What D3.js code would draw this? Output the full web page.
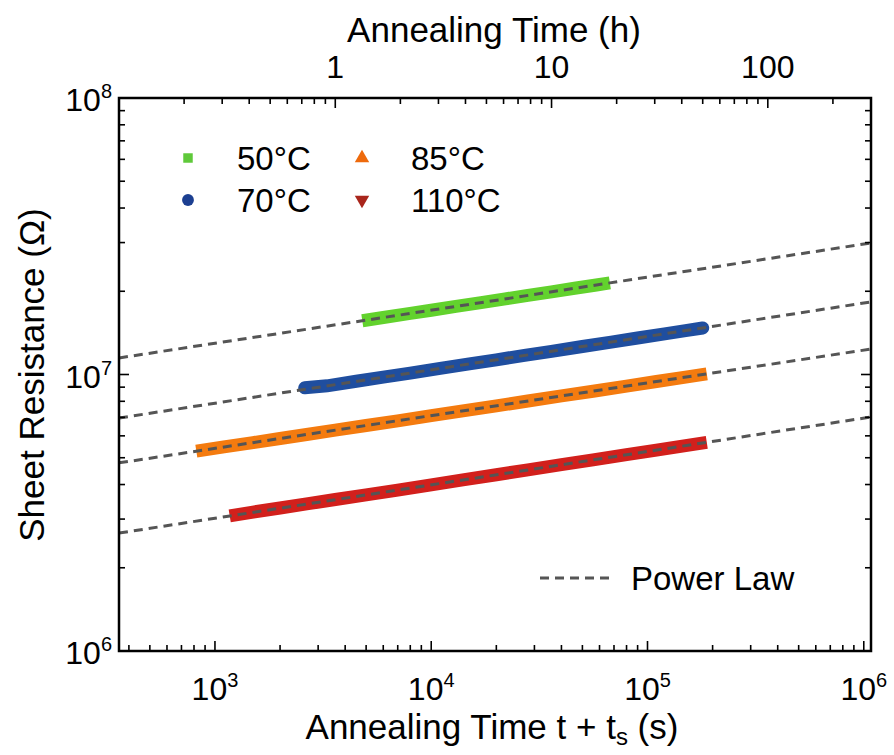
<!DOCTYPE html>
<html>
<head>
<meta charset="utf-8">
<script src="https://cdn.jsdelivr.net/npm/d3@7"></script>
<style>
  html, body { margin: 0; padding: 0; background: #fff; }
  svg { display: block; font-family: "Liberation Sans", Arial, sans-serif; }
</style>
</head>
<body>
<svg id="chart" width="894" height="755"></svg>
<script>
// data: time (s) and sheet resistance (ohm)
const labels = ["50°C", "70°C", "85°C", "110°C"];
const bandColors = ["#62d22d", "#1f4e9f", "#f47b0f", "#d2201c"];
const legendColors = ["#5fc93a", "#1c3f91", "#ee6a0c", "#a9261c"];

const t50 = [4.8e3, 6e3, 8e3, 1e4, 1.3e4, 1.7e4, 2.2e4, 2.8e4, 3.6e4, 4.6e4, 5.8e4, 6.7e4];
const r50 = [1.565e7, 1.607e7, 1.663e7, 1.708e7, 1.763e7, 1.82e7, 1.877e7, 1.932e7, 1.991e7, 2.05e7, 2.107e7, 2.144e7];

const t70 = [2.6e3, 3.3e3, 4.5e3, 6e3, 8e3, 1.1e4, 1.5e4, 2e4, 2.7e4, 3.6e4, 5e4, 6.8e4, 9e4, 1.2e5, 1.5e5, 1.8e5];
const r70 = [8.95e6, 9.1e6, 9.45e6, 9.78e6, 1.012e7, 1.052e7, 1.092e7, 1.13e7, 1.172e7, 1.213e7, 1.263e7, 1.31e7, 1.355e7, 1.403e7, 1.441e7, 1.473e7];

const t85 = [820, 1.1e3, 1.5e3, 2e3, 2.7e3, 3.6e3, 5e3, 7e3, 1e4, 1.4e4, 2e4, 2.8e4, 4e4, 5.6e4, 8e4, 1.1e5, 1.5e5, 1.88e5];
const r85 = [5.28e6, 5.47e6, 5.67e6, 5.87e6, 6.08e6, 6.29e6, 6.54e6, 6.8e6, 7.1e6, 7.39e6, 7.7e6, 8.02e6, 8.37e6, 8.7e6, 9.08e6, 9.43e6, 9.78e6, 1.005e7];

const t110 = [1.17e3, 1.5e3, 2e3, 2.7e3, 3.6e3, 5e3, 7e3, 1e4, 1.4e4, 2e4, 2.8e4, 4e4, 5.6e4, 8e4, 1.1e5, 1.5e5, 1.88e5];
const r110 = [3.08e6, 3.18e6, 3.29e6, 3.41e6, 3.53e6, 3.67e6, 3.82e6, 3.99e6, 4.16e6, 4.34e6, 4.52e6, 4.72e6, 4.91e6, 5.13e6, 5.33e6, 5.53e6, 5.68e6];

// power law fits, value at the left (360 s) and right (1.08e6 s) ends
const fitT = [360, 1.08e6];
const fitLeft = [1.148e7, 6.96e6, 4.79e6, 2.67e6];
const fitRight = [2.99e7, 1.83e7, 1.236e7, 7.02e6];

const xMajor = [1e3, 1e4, 1e5, 1e6];
const xExp = [3, 4, 5, 6];
const yMajor = [1e6, 1e7, 1e8];
const yExp = [6, 7, 8];
const hourMajor = [1, 10, 100];

const svg = d3.select("#chart");
const pLeft = 119, pRight = 871, pTop = 98, pBottom = 651;

const x = d3.scaleLog().domain([360, 1.08e6]).range([pLeft, pRight]);
const xh = d3.scaleLog().domain([0.1, 300]).range([pLeft, pRight]);
const y = d3.scaleLog().domain([1e6, 1e8]).range([pBottom, pTop]);

const plot = svg.append("g");
svg.append("clipPath").attr("id", "clip")
  .append("rect").attr("x", pLeft).attr("y", pTop).attr("width", pRight - pLeft).attr("height", pBottom - pTop);

const series = [[t50, r50], [t70, r70], [t85, r85], [t110, r110]];
const line = d3.line().x(d => x(d[0])).y(d => y(d[1]));

// data bands
series.forEach((s, i) => {
  const pts = s[0].map((t, j) => [t, s[1][j]]);
  plot.append("path")
    .attr("d", line(pts))
    .attr("fill", "none")
    .attr("stroke", bandColors[i])
    .attr("stroke-width", 13)
    .attr("stroke-linecap", i === 1 ? "round" : "butt");
});

// power law lines
const fits = plot.append("g").attr("clip-path", "url(#clip)");
fitLeft.forEach((v, i) => {
  fits.append("path")
    .attr("d", line([[fitT[0], v], [fitT[1], fitRight[i]]]))
    .attr("fill", "none")
    .attr("stroke", "#555")
    .attr("stroke-width", 3)
    .attr("stroke-dasharray", "9,6");
});

// ticks
const axes = svg.append("g").attr("stroke", "#000").attr("stroke-width", 1.6);
function minors(lo, hi) {
  const out = [];
  for (let e = Math.floor(Math.log10(lo)); e <= Math.ceil(Math.log10(hi)); e++) {
    for (let k = 1; k < 10; k++) {
      const v = k * Math.pow(10, e);
      if (v > lo * 1.001 && v < hi * 0.999) out.push([v, k === 1]);
    }
  }
  return out;
}
minors(360, 1.08e6).forEach(([v, major]) => {
  const len = major ? 10 : 6;
  axes.append("line").attr("x1", x(v)).attr("x2", x(v)).attr("y1", pBottom).attr("y2", pBottom - len);
});
minors(0.1, 300).forEach(([v, major]) => {
  const len = major ? 10 : 6;
  axes.append("line").attr("x1", xh(v)).attr("x2", xh(v)).attr("y1", pTop).attr("y2", pTop + len);
});
minors(1e6, 1e8).forEach(([v, major]) => {
  const len = major ? 10 : 6;
  axes.append("line").attr("x1", pLeft).attr("x2", pLeft + len).attr("y1", y(v)).attr("y2", y(v));
  axes.append("line").attr("x1", pRight).attr("x2", pRight - len).attr("y1", y(v)).attr("y2", y(v));
});

svg.append("rect")
  .attr("x", pLeft).attr("y", pTop).attr("width", pRight - pLeft).attr("height", pBottom - pTop)
  .attr("fill", "none").attr("stroke", "#000").attr("stroke-width", 2.5);

// tick labels
const narrow = '"Liberation Sans Narrow", "Arial Narrow", "Liberation Sans", sans-serif';
xMajor.forEach((v, i) => {
  const t = svg.append("text").attr("x", x(v)).attr("y", 700)
    .attr("text-anchor", "middle").attr("font-size", 32).attr("font-family", narrow);
  t.append("tspan").text("10");
  t.append("tspan").attr("font-size", 20).attr("dy", -13).text(xExp[i]);
});
yMajor.forEach((v, i) => {
  const t = svg.append("text").attr("x", 112).attr("y", y(v) + 13)
    .attr("text-anchor", "end").attr("font-size", 32).attr("font-family", narrow);
  t.append("tspan").text("10");
  t.append("tspan").attr("font-size", 20).attr("dy", -13).text(yExp[i]);
});
hourMajor.forEach(v => {
  svg.append("text").attr("x", xh(v)).attr("y", 78)
    .attr("text-anchor", "middle").attr("font-size", 32).attr("font-family", narrow)
    .text(v);
});

// axis titles
svg.append("text").attr("x", 494).attr("y", 42).attr("text-anchor", "middle")
  .attr("font-size", 35).text("Annealing Time (h)");
const xt = svg.append("text").attr("x", 492).attr("y", 739).attr("text-anchor", "middle").attr("font-size", 35);
xt.append("tspan").text("Annealing Time t + t");
xt.append("tspan").attr("font-size", 24).attr("dy", 6).text("s");
xt.append("tspan").attr("dy", -6).text(" (s)");
svg.append("text").attr("transform", "translate(44,375) rotate(-90)").attr("text-anchor", "middle")
  .attr("font-size", 35).text("Sheet Resistance (Ω)");

// legend
const legendX = [188, 362, 188, 362];
const legendY = [158, 158, 200, 200];
const order = [0, 2, 1, 3];
const shapes = [d3.symbolSquare, d3.symbolCircle, d3.symbolTriangle, d3.symbolTriangle];
order.forEach((si, k) => {
  const g = svg.append("g").attr("transform", `translate(${legendX[k]},${legendY[k]})`);
  g.append("path")
    .attr("d", d3.symbol().type(shapes[si]).size(si === 1 ? 110 : 90)())
    .attr("transform", si === 3 ? "rotate(180)" : null)
    .attr("fill", legendColors[si]);
  g.append("text").attr("x", 49).attr("y", 12).attr("font-size", 33).text(labels[si]);
});

svg.append("line").attr("x1", 540).attr("x2", 615).attr("y1", 578).attr("y2", 578)
  .attr("stroke", "#555").attr("stroke-width", 3).attr("stroke-dasharray", "9,6");
svg.append("text").attr("x", 631).attr("y", 590).attr("font-size", 33).text("Power Law");
</script>
</body>
</html>
